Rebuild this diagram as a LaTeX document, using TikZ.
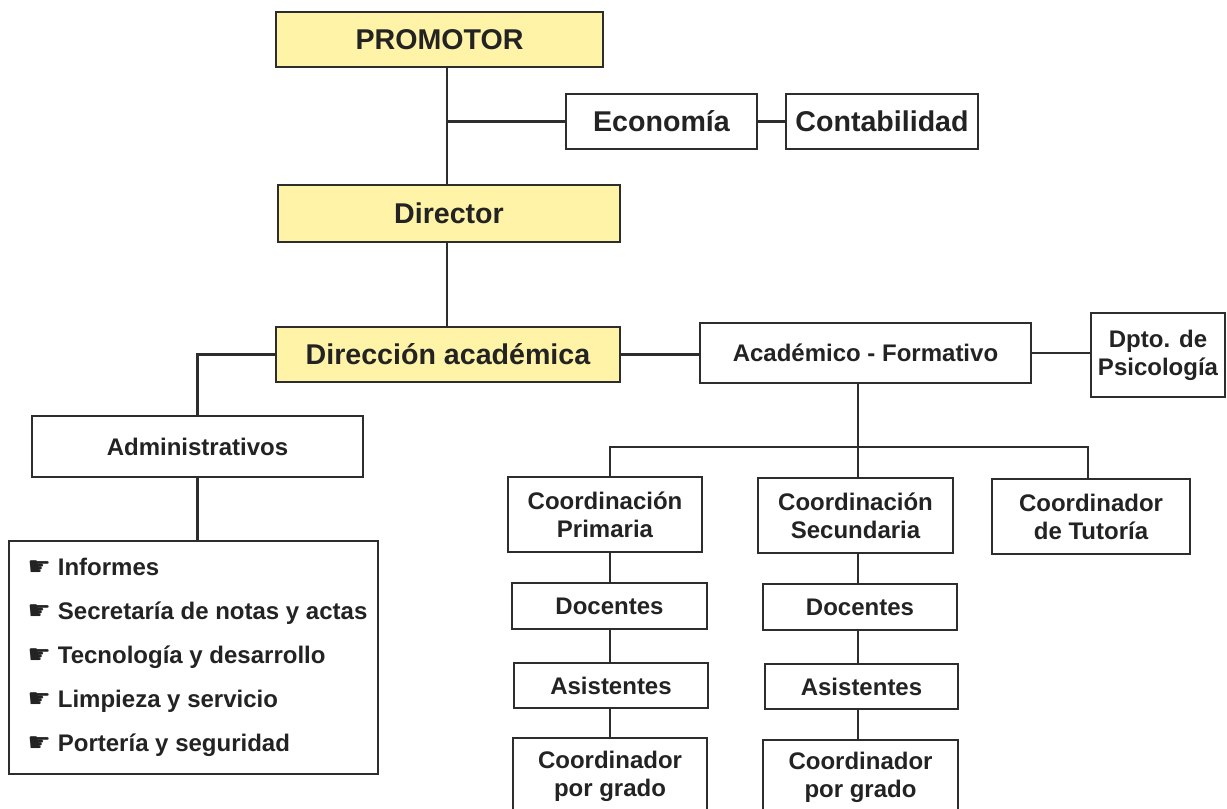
\documentclass[tikz,border=0pt]{standalone}
\usepackage{fontspec}
\setmainfont{Liberation Sans}
\newfontfamily\dejavu{DejaVu Sans}
\definecolor{yel}{RGB}{255,243,168}
\definecolor{linec}{RGB}{45,45,45}
\definecolor{textc}{RGB}{35,35,35}
\newcommand\bigf{\fontsize{14.3}{17}\selectfont\bfseries}
\newcommand\smallf{\fontsize{12}{14}\selectfont\bfseries}
\newcommand\listf{\fontsize{12}{22}\selectfont\bfseries}
\newcommand\hand{\hspace*{4pt}{\dejavu\fontsize{13}{13}\selectfont ☛}\hspace{3.5pt}}
\tikzset{
  box/.style={draw=linec, line width=1.4pt, fill=white, inner sep=0pt, text=textc, align=center},
  ybox/.style={box, fill=yel},
  big/.style={font=\bigf},
  small/.style={font=\smallf},
  conn/.style={draw=linec, line width=1.1pt},
}
\newcommand\boxnode[7]{%
  \node[#2, minimum width={(#5-#3)*0.5pt}, minimum height={(#6-#4)*0.5pt}] (#1) at ({(#3+#5)/2},{(#4+#6)/2}) {#7};}
\begin{document}
\begin{tikzpicture}[x=0.5pt,y=-0.5pt]
\useasboundingbox (0,0) rectangle (1227,809);
\clip (0,0) rectangle (1227,809);
\fill[white] (0,0) rectangle (1227,809);

\coordinate (t1) at (447,0);
\coordinate (t2) at (858,0);
\coordinate (c1) at (610,0);
\coordinate (c3) at (1088,0);
\coordinate (bar) at (0,447);

\boxnode{prom}{ybox,big}{276}{12}{603}{67}{PROMOTOR}
\boxnode{econ}{box,big}{566}{94}{757}{149}{Economía}
\boxnode{cont}{box,big}{786}{94}{978}{149}{Contabilidad}
\boxnode{dir}{ybox,big}{278}{185}{620}{242}{Director}
\boxnode{da}{ybox,big}{276}{327}{620}{382}{Dirección académica}
\boxnode{af}{box,small}{700}{323}{1031}{383}{Académico - Formativo}
\boxnode{dpto}{box,small}{1091}{313}{1225}{397}{Dpto. de\\Psicología}
\boxnode{adm}{box,small}{32}{416}{363}{477}{Administrativos}
\node[box, align=left, font=\listf, minimum width={(378-9)*0.5pt}, minimum height={(771-538)*0.5pt}] (list) at ({(9+378)/2},{(538+771)/2+3})
  {\hand Informes\\ \hand Secretaría de notas y actas\\ \hand Tecnología y desarrollo\\ \hand Limpieza y servicio\\ \hand Portería y seguridad};
\boxnode{cp}{box,small}{508}{477}{702}{552}{Coordinación\\Primaria}
\boxnode{cs}{box,small}{758}{478}{953}{553}{Coordinación\\Secundaria}
\boxnode{ct}{box,small}{992}{479}{1190}{554}{Coordinador\\de Tutoría}
\boxnode{d1}{box,small}{512}{583}{707}{629}{Docentes}
\boxnode{d2}{box,small}{763}{584}{957}{630}{Docentes}
\boxnode{a1}{box,small}{514}{663}{708}{708}{Asistentes}
\boxnode{a2}{box,small}{765}{664}{958}{709}{Asistentes}
\boxnode{g1}{box,small}{513}{738}{707}{814}{Coordinador\\por grado}
\boxnode{g2}{box,small}{763}{740}{958}{814}{Coordinador\\por grado}

\draw[conn] (prom.south -| t1) -- (dir.north -| t1);
\draw[conn] (econ.west -| t1) -- (econ.west);
\draw[conn] (econ.east) -- (cont.west);
\draw[conn] (dir.south -| t1) -- (da.north -| t1);
\draw[conn] (da.west) -| (adm.north);
\draw[conn] (adm.south) -- (adm.south |- list.north);
\draw[conn] (da.east) -- (da.east -| af.west);
\draw[conn] (af.east) -- (af.east -| dpto.west);
\draw[conn] (af.south -| t2) -- (cs.north -| t2);
\draw[conn] (cp.north -| c1) |- (c3 |- bar) -- (ct.north -| c3);
\draw[conn] (cp.south -| c1) -- (d1.north -| c1);
\draw[conn] (d1.south -| c1) -- (a1.north -| c1);
\draw[conn] (a1.south -| c1) -- (g1.north -| c1);
\draw[conn] (cs.south -| t2) -- (d2.north -| t2);
\draw[conn] (d2.south -| t2) -- (a2.north -| t2);
\draw[conn] (a2.south -| t2) -- (g2.north -| t2);
\end{tikzpicture}
\end{document}
